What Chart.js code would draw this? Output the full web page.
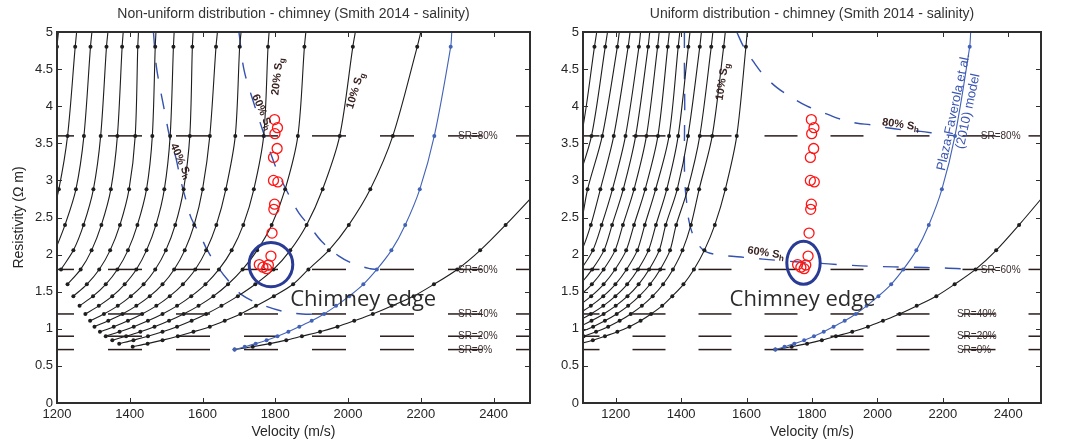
<!DOCTYPE html>
<html><head><meta charset="utf-8">
<script src="https://cdn.jsdelivr.net/npm/chart.js@4.4.1/dist/chart.umd.min.js"></script>
<style>
html,body{margin:0;padding:0;background:#fff;width:1068px;height:442px;overflow:hidden}
#wl{position:absolute;left:0;top:0;width:540px;height:442px}
#wr{position:absolute;left:540px;top:0;width:528px;height:442px}
</style></head><body>
<div id="wl"><canvas id="cL" width="540" height="442" style="width:540px;height:442px"></canvas></div>
<div id="wr"><canvas id="cR" width="528" height="442" style="width:528px;height:442px"></canvas></div>
<script>
// ---------- DATA ----------
// resistivity of the dot rows (SR = 0%,5%,...,85%) and top border crossing
const resistivityLevels = [0.72,0.758,0.8,0.847,0.9,0.96,1.029,1.108,1.2,1.309,1.44,1.6,1.8,2.057,2.4,2.88,3.6,4.8,5.0];
const xTicksLeft = [1200,1400,1600,1800,2000,2200,2400];
const xTicksRight = [1200,1400,1600,1800,2000,2200,2400];
const yTicks = [0,0.5,1,1.5,2,2.5,3,3.5,4,4.5,5];

// Sg = 0% curve (starts at row 0) – both panels
const hydrateOnlyVelocity = [1688,1738,1785,1830,1873,1923,1971,2017,2068,2120,2180,2236,2300,2363,2433,2525];
// Plaza-Faverola et al. (2010) model (blue), starts at row 0
const plazaVelocity = [1688,1716,1746,1776,1806,1836,1866,1900,1934,1967,2003,2042,2079,2119,2157,2197,2237,2282,2285];

// fan curves Sg = 5%..75%, curve k starts at row k+1
const leftFanVelocity = [
  [1408,1449,1490,1532,1575,1620,1661,1704,1747,1796,1849,1891,1947,2002,2061,2123,2190,2200],
  [1371,1410,1450,1490,1530,1570,1610,1652,1697,1745,1795,1841,1886,1930,1977,2013,2020],
  [1352,1390,1429,1468,1508,1548,1589,1630,1670,1710,1750,1790,1827,1862,1880,1884],
  [1334,1372,1411,1450,1490,1530,1569,1608,1645,1680,1712,1741,1768,1780,1783],
  [1318,1356,1395,1434,1473,1510,1546,1580,1610,1638,1664,1690,1702,1706],
  [1303,1341,1380,1418,1455,1490,1522,1551,1577,1600,1620,1637,1641],
  [1291,1329,1367,1403,1438,1470,1499,1525,1548,1565,1572,1574],
  [1278,1315,1352,1386,1418,1446,1472,1495,1511,1520,1522],
  [1262,1299,1334,1366,1395,1421,1446,1462,1470,1472],
  [1245,1282,1316,1346,1373,1398,1415,1422,1424],
  [1229,1265,1295,1322,1348,1366,1379,1382],
  [1211,1245,1273,1300,1320,1336,1340],
  [1195,1222,1252,1274,1292,1296],
  [1180,1205,1229,1250,1254],
  [1160,1185,1200,1204]
];
const rightFanVelocity = [
  [1055,1092,1130,1167,1205,1242,1276,1308,1342,1373,1407,1439,1471,1503,1535,1570,1598,1602],
  [1028,1064,1102,1140,1177,1212,1246,1280,1313,1345,1375,1404,1430,1455,1495,1530,1535],
  [1018,1056,1094,1131,1167,1203,1238,1272,1305,1336,1366,1385,1420,1457,1492,1497],
  [1012,1051,1089,1126,1163,1200,1236,1270,1302,1333,1353,1388,1421,1457,1462],
  [1008,1048,1086,1124,1162,1199,1235,1268,1300,1323,1356,1391,1422,1427],
  [1006,1046,1085,1124,1162,1199,1233,1266,1289,1322,1363,1391,1396],
  [1006,1046,1086,1125,1163,1198,1232,1256,1290,1329,1359,1364],
  [1008,1048,1088,1127,1163,1198,1222,1256,1294,1328,1333],
  [1010,1052,1091,1128,1164,1189,1223,1261,1299,1304],
  [1015,1055,1093,1130,1157,1190,1230,1271,1276],
  [1020,1060,1096,1124,1153,1194,1238,1244],
  [1030,1065,1093,1114,1159,1205,1211],
  [1040,1060,1078,1126,1168,1175],
  [1030,1048,1095,1135,1142]
];

// constant Sh dashed curves
const leftSh40Velocity = [1465,1473,1485,1497,1509,1526,1540,1557,1569,1593,1612,1641,1669,1707,1760,1817,1874,1934];
const leftSh40Resistivity = [5.0,4.54,4.2,3.9,3.6,3.32,3.0,2.69,2.49,2.27,2.07,1.84,1.66,1.46,1.33,1.24,1.2,1.2];
const leftSh60Velocity = [1700,1714,1741,1765,1784,1808,1844,1865,1898,1927,1975,2018,2061,2079];
const leftSh60Resistivity = [5.0,4.49,4.04,3.68,3.41,3.1,2.74,2.56,2.36,2.18,1.98,1.87,1.81,1.8];
const rightSh60Velocity = [1410,1410,1411,1410,1411,1417,1424,1438,1468,1510,1600,1700,1800,1900,2000,2100,2200,2290];
const rightSh60Resistivity = [5.0,4.5,4.0,3.5,3.0,2.7,2.45,2.25,2.06,2.0,1.96,1.92,1.89,1.86,1.84,1.83,1.82,1.8];
const rightSh80Velocity = [1570,1590,1621,1652,1693,1734,1785,1826,1877,1938,1979,2030,2081,2132,2183,2237];
const rightSh80Resistivity = [5.0,4.81,4.6,4.42,4.25,4.13,4.0,3.93,3.84,3.77,3.75,3.71,3.68,3.66,3.63,3.6];

// saturation-ratio reference lines
const srLevels = [0.72,0.9,1.2,1.8,3.6];
const srNames = ['SR=0%','SR=20%','SR=40%','SR=60%','SR=80%'];

// chimney measurements (red circles)
const chimneyVelocity = [1798,1806,1799,1805,1795,1795,1807,1798,1796,1791,1788,1756,1766,1781,1776];
const chimneyResistivity = [3.82,3.71,3.63,3.43,3.31,3.0,2.98,2.68,2.61,2.29,1.98,1.865,1.83,1.86,1.81];

// ---------- STYLE / BUILD ----------
const FONT = "'Liberation Sans', Arial, Helvetica, sans-serif";
const INK = '#262626';
const BLACK = '#1e1e1e';
const BLUE = '#4262b8';
const DASHBLUE = '#3452b0';
const LABEL = '#3a2323';

function pts(vels, start){ return vels.map((v,i)=>({x:v, y:resistivityLevels[start+i]})); }
function pairPts(xs, ys){ return xs.map((v,i)=>({x:v, y:ys[i]})); }

function curveDs(data, color, order){
  return {data, showLine:true, borderColor:color, backgroundColor:color, borderWidth:1.1,
    pointRadius: c => (c.raw && c.raw.y >= 5 ? 0 : 2), pointHoverRadius:0, pointBorderWidth:0,
    pointBackgroundColor:color, tension:0.3, order};
}
function dashDs(data, order){
  return {data, showLine:true, borderColor:DASHBLUE, borderWidth:1.4, borderDash:[16,15],
    pointRadius:0, tension:0.35, order};
}

function buildDatasets(fan, sh, xmin, xmax, dash, dashOff){
  const ds = [];
  srLevels.forEach(r => ds.push({data:[{x:xmin,y:r},{x:xmax,y:r}], showLine:true,
      borderColor:'#2b1c1c', borderWidth:1.5, borderDash:dash, borderDashOffset:dashOff, pointRadius:0, order:5}));
  sh.forEach(s => ds.push(dashDs(pairPts(s[0], s[1]), 4)));
  fan.forEach((v,k) => ds.push(curveDs(pts(v, k+1), BLACK, 3)));
  ds.push(curveDs(pts(hydrateOnlyVelocity, 0), BLACK, 3));
  ds.push(curveDs(pts(plazaVelocity, 0), BLUE, 2));
  ds.push({data: pairPts(chimneyVelocity, chimneyResistivity), showLine:false, pointStyle:'circle',
    pointRadius:5, pointBorderWidth:1.3, pointBorderColor:'#ff1414', pointBackgroundColor:'rgba(0,0,0,0)', order:1});
  return ds;
}

function subLabel(ctx, X, Y, main, sub, rot, size, color, weight){
  ctx.save(); ctx.translate(X,Y); ctx.rotate(rot*Math.PI/180);
  const f = weight+' '+size+'px '+FONT, fs = weight+' '+(size*0.75)+'px '+FONT;
  ctx.font=f; const w1 = ctx.measureText(main).width;
  ctx.font=fs; const w2 = sub ? ctx.measureText(sub).width : 0;
  const x0 = -(w1+w2)/2;
  ctx.fillStyle=color; ctx.textBaseline='middle'; ctx.textAlign='left';
  ctx.font=f; ctx.fillText(main, x0, 0);
  if (sub){ ctx.font=fs; ctx.fillText(sub, x0+w1, size*0.28); }
  ctx.restore();
}

const overlay = {
  id:'overlay',
  afterDatasetsDraw(chart, args, o){
    const {ctx, chartArea:a, scales:{x,y}} = chart;
    const X = v => x.getPixelForValue(v), Y = v => y.getPixelForValue(v);
    ctx.save();
    ctx.beginPath(); ctx.rect(a.left, a.top, a.right-a.left, a.bottom-a.top); ctx.clip();
    // chimney-edge ellipse
    const e = o.ellipse;
    ctx.beginPath();
    ctx.ellipse(X(e.c[0]), Y(e.c[1]), Math.abs(X(e.c[0]+e.hw)-X(e.c[0])), Math.abs(Y(e.c[1]+e.hh)-Y(e.c[1])), 0, 0, Math.PI*2);
    ctx.lineWidth = 3; ctx.strokeStyle = '#2a3b95'; ctx.stroke();
    // chimney edge text
    ctx.font = "22px 'Open Sans', 'Noto Sans', sans-serif"; ctx.fillStyle = '#2b2b2b';
    ctx.textAlign='left'; ctx.textBaseline='alphabetic';
    ctx.fillText('Chimney edge', X(o.chimneyText[0]), Y(o.chimneyText[1]));
    // SR labels
    ctx.font = '10px '+FONT; ctx.fillStyle = '#3a2b2b'; ctx.textBaseline='middle';
    srLevels.forEach((r,i) => ctx.fillText(srNames[i], X(o.srX[i]), Y(r)+0.5));
    // saturation labels
    o.labels.forEach(l => subLabel(ctx, X(l.x), Y(l.y), l.t, l.s, l.rot, 11, LABEL, 'bold'));
    (o.model||[]).forEach(l => subLabel(ctx, X(l.x), Y(l.y), l.t, '', l.rot, 13, '#3b56b2', 'normal'));
    ctx.restore();
  },
  afterDraw(chart, args, o){
    const {ctx, chartArea:a, scales:{x,y}} = chart;
    ctx.save();
    ctx.strokeStyle = '#2e2e2e'; ctx.lineWidth = 1;
    const L = 5;
    x.ticks.forEach(t => { const p = Math.round(x.getPixelForValue(t.value))+0.5;
      if (p < a.left+2 || p > a.right-2) return;
      ctx.beginPath(); ctx.moveTo(p, a.bottom); ctx.lineTo(p, a.bottom-L); ctx.moveTo(p, a.top); ctx.lineTo(p, a.top+L); ctx.stroke(); });
    y.ticks.forEach(t => { const p = Math.round(y.getPixelForValue(t.value))+0.5;
      if (p < a.top+2 || p > a.bottom-2) return;
      ctx.beginPath(); ctx.moveTo(a.left, p); ctx.lineTo(a.left+L, p); ctx.moveTo(a.right, p); ctx.lineTo(a.right-L, p); ctx.stroke(); });
    ctx.lineWidth = 2; ctx.strokeStyle = '#2e2e2e';
    ctx.strokeRect(a.left, a.top, a.right-a.left, a.bottom-a.top);
    ctx.restore();
  }
};

function makeChart(id, cfg){
  return new Chart(document.getElementById(id), {
    type:'scatter',
    data:{datasets: cfg.datasets},
    options:{
      responsive:false, animation:false, devicePixelRatio:1,
      layout:{padding:{left:0, right:cfg.padRight, top:0, bottom:0}},
      plugins:{
        legend:{display:false}, tooltip:{enabled:false},
        title:{display:true, fullSize:false, text:cfg.title, color:'#333', font:{family:FONT, size:14, weight:'normal', lineHeight:1.2}, padding:{top:6, bottom:9.2}},
        overlay: cfg.overlay
      },
      scales:{
        x:{type:'linear', min:cfg.xmin, max:cfg.xmax,
          afterBuildTicks: s => { s.ticks = cfg.xticks.map(v => ({value:v})); },
          afterFit: s => { s.height = 39; },
          grid:{display:false, drawTicks:false}, border:{display:false},
          ticks:{padding:4, color:INK, font:{family:FONT, size:13}, maxRotation:0, autoSkip:false, callback: v => String(v)},
          title:{display:true, text:'Velocity (m/s)', color:INK, font:{family:FONT, size:14, lineHeight:1.2}, padding:{top:0, bottom:1.1}}},
        y:{type:'linear', min:0, max:5,
          afterBuildTicks: s => { s.ticks = yTicks.map(v => ({value:v})); },
          afterFit: s => { s.width = cfg.yWidth; },
          grid:{display:false, drawTicks:false}, border:{display:false},
          ticks:{padding:4, color:INK, font:{family:FONT, size:13}, autoSkip:false, callback: v => String(v)},
          title:{display:cfg.yTitle, text:'Resistivity (\u03A9 m)', color:INK, font:{family:FONT, size:14, lineHeight:1.2}, padding:{top:10.6, bottom:0}}}
      }
    },
    plugins:[overlay]
  });
}

makeChart('cL', {
  title:'Non-uniform distribution - chimney (Smith 2014 - salinity)',
  xmin:1200, xmax:2500, xticks:xTicksLeft, padRight:10, yWidth:57, yTitle:true,
  datasets: buildDatasets(leftFanVelocity, [[leftSh40Velocity,leftSh40Resistivity],[leftSh60Velocity,leftSh60Resistivity]], 1200, 2500, [34,34], 17),
  overlay:{
    ellipse:{c:[1788,1.865], hw:60, hh:0.297},
    chimneyText:[1841,1.31],
    srX:[2302,2302,2302,2302,2302],
    labels:[
      {t:'20% S', s:'g', x:1806, y:4.40, rot:-83},
      {t:'10% S', s:'g', x:2020, y:4.21, rot:-73},
      {t:'60% S', s:'h', x:1764, y:3.92, rot:67},
      {t:'40% S', s:'h', x:1540, y:3.26, rot:66}
    ]
  }
});

makeChart('cR', {
  title:'Uniform distribution - chimney (Smith 2014 - salinity)',
  xmin:1100, xmax:2500, xticks:xTicksRight, padRight:27, yWidth:43, yTitle:false,
  datasets: buildDatasets(rightFanVelocity, [[rightSh60Velocity,rightSh60Resistivity],[rightSh80Velocity,rightSh80Resistivity]], 1100, 2500, [33,33], 16.5),
  overlay:{
    ellipse:{c:[1774,1.89], hw:51, hh:0.29},
    chimneyText:[1548,1.31],
    srX:[2243,2243,2243,2316,2316],
    labels:[
      {t:'10% S', s:'g', x:1526, y:4.33, rot:-81},
      {t:'80% S', s:'h', x:2071, y:3.75, rot:8},
      {t:'60% S', s:'h', x:1659, y:2.02, rot:9}
    ],
    model:[
      {t:'Plaza-Faverola et al.', x:2233, y:3.92, rot:-78},
      {t:'(2010) model', x:2277, y:3.93, rot:-78}
    ]
  }
});
</script>
</body></html>
